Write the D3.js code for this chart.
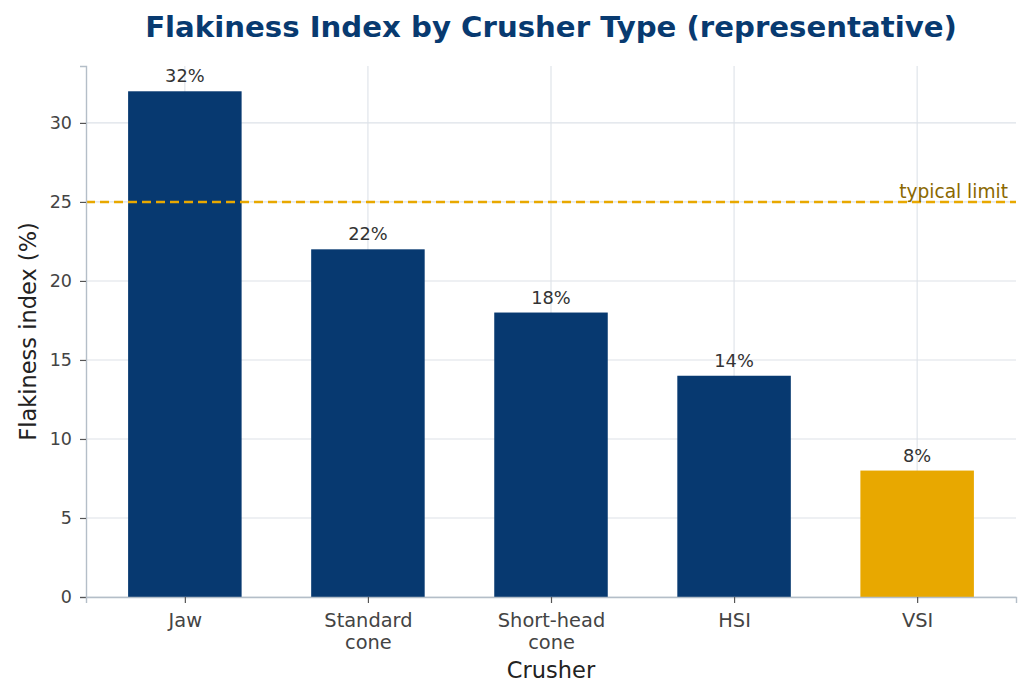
<!DOCTYPE html>
<html>
<head>
<meta charset="utf-8">
<script src="https://cdn.jsdelivr.net/npm/d3@7"></script>
<style>
  body { margin: 0; background: #fff; }
  svg { font-family: "DejaVu Sans", sans-serif; }
</style>
</head>
<body>
<svg></svg>
<script>
// Data
const crushers = ["Jaw", "Standard\ncone", "Short-head\ncone", "HSI", "VSI"];
const flakiness = [32, 22, 18, 14, 8];
const highlight = ["VSI"];
const yTicks = [0, 5, 10, 15, 20, 25, 30];
const limitValue = 25;

// Sizes
const W = 1031, H = 699;
const margin = { t: 66, b: 102, l: 86, r: 15 };
const width = W - margin.l - margin.r;
const height = H - margin.t - margin.b;

const root = d3.select("svg").attr("width", W).attr("height", H);
const svg = root.append("g").attr("transform", `translate(${margin.l}, ${margin.t})`);

// Scales
const xScale = d3.scalePoint().domain(crushers).range([0, width]).padding(0.54);
const yScale = d3.scaleLinear().domain([0, 33.6]).range([height, 0]);
const barW = xScale.step() * 0.62;

// Grids
svg.append("g")
  .selectAll("line")
  .data(crushers)
  .join("line")
    .attr("x1", d => xScale(d)).attr("x2", d => xScale(d))
    .attr("y1", 0).attr("y2", height)
    .attr("stroke", "#dde2e8").attr("stroke-width", 1.1);

svg.append("g")
  .selectAll("line")
  .data(yTicks)
  .join("line")
    .attr("x1", 0).attr("x2", width)
    .attr("y1", d => yScale(d)).attr("y2", d => yScale(d))
    .attr("stroke", "#dde2e8").attr("stroke-width", 1.1);

// Bars
svg.append("g")
  .selectAll("rect")
  .data(crushers)
  .join("rect")
    .attr("x", d => xScale(d) - barW / 2)
    .attr("width", barW)
    .attr("y", (d, i) => yScale(flakiness[i]))
    .attr("height", (d, i) => height - yScale(flakiness[i]))
    .attr("fill", d => highlight.includes(d) ? "#e8a800" : "#073970");

// Value labels
svg.append("g")
  .selectAll("text")
  .data(crushers)
  .join("text")
    .attr("x", d => xScale(d))
    .attr("y", (d, i) => yScale(flakiness[i]) - 9)
    .attr("text-anchor", "middle")
    .attr("font-size", 17.8)
    .attr("fill", "#333")
    .text((d, i) => `${flakiness[i]}%`);

// Limit line
svg.append("line")
  .attr("x1", 0).attr("x2", width)
  .attr("y1", yScale(limitValue)).attr("y2", yScale(limitValue))
  .attr("stroke", "#e8a800").attr("stroke-width", 2.5)
  .attr("stroke-dasharray", "9,5");

svg.append("text")
  .attr("x", width - 8)
  .attr("y", yScale(limitValue) - 4)
  .attr("text-anchor", "end")
  .attr("font-size", 18.6)
  .attr("fill", "#8a6800")
  .text("typical limit");

// Axes
const yAxis = svg.append("g")
  .call(d3.axisLeft(yScale).tickValues(yTicks).tickSize(6).tickPadding(8));
yAxis.select(".domain").attr("stroke", "#b4bec8").attr("stroke-width", 1.4);
yAxis.selectAll(".tick line").attr("stroke", "#555").attr("stroke-width", 1.2);
yAxis.selectAll(".tick text").attr("font-size", 17.5).attr("fill", "#444").attr("font-family", "DejaVu Sans");

const xAxis = svg.append("g")
  .attr("transform", `translate(0, ${height})`)
  .call(d3.axisBottom(xScale).tickSize(6).tickFormat(""));
xAxis.select(".domain").attr("stroke", "#b4bec8").attr("stroke-width", 1.4);
xAxis.selectAll(".tick line").attr("stroke", "#555").attr("stroke-width", 1.2);
xAxis.selectAll(".tick").each(function(d) {
  const t = d3.select(this).append("text")
    .attr("text-anchor", "middle")
    .attr("font-size", 19.4)
    .attr("fill", "#444")
    .attr("font-family", "DejaVu Sans");
  d.split("\n").forEach((line, i) => {
    t.append("tspan").attr("x", 0).attr("y", 30 + i * 21.5).text(line);
  });
});

// Axis titles
svg.append("text")
  .attr("x", width / 2)
  .attr("y", height + 81)
  .attr("text-anchor", "middle")
  .attr("font-size", 22.5)
  .attr("fill", "#222")
  .text("Crusher");

svg.append("text")
  .attr("transform", `translate(${-50}, ${height / 2}) rotate(-90)`)
  .attr("text-anchor", "middle")
  .attr("font-size", 22.5)
  .attr("fill", "#222")
  .text("Flakiness index (%)");

// Title
root.append("text")
  .attr("x", 551)
  .attr("y", 37)
  .attr("text-anchor", "middle")
  .attr("font-size", 29.2)
  .attr("font-weight", "bold")
  .attr("fill", "#083a70")
  .text("Flakiness Index by Crusher Type (representative)");
</script>
</body>
</html>
